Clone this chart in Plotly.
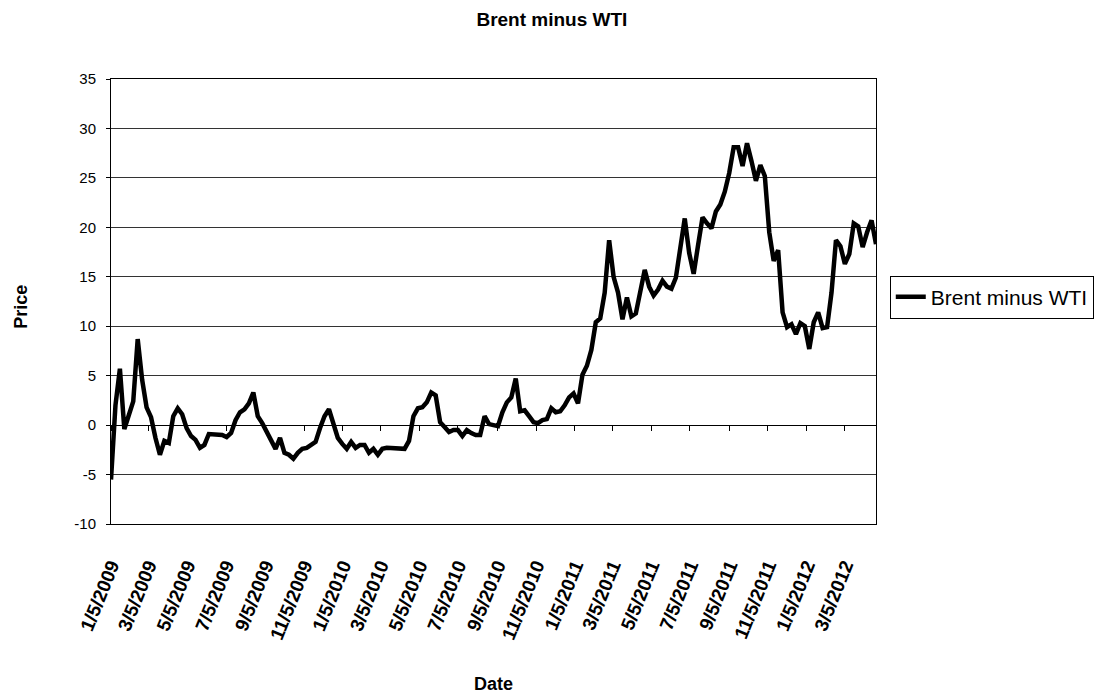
import plotly.graph_objects as go
import pandas as pd

# Weekly Brent minus WTI spread (USD)
start_date = "2009-01-05"
spread = [
    -5.5, 2.0, 5.7, -0.4, 1.0, 2.4, 8.7, 4.6, 1.8, 0.8,
    -1.3, -3.0, -1.6, -1.8, 0.9, 1.7, 1.1, -0.3, -1.1, -1.5,
    -2.3, -2.0, -0.9, -0.9, -0.9, -1.0, -1.2, -0.8, 0.5, 1.3,
    1.6, 2.2, 3.3, 0.9, 0.2, -0.6, -1.5, -2.4, -1.3, -2.8,
    -3.0, -3.4, -2.8, -2.4, -2.3, -2.0, -1.7, -0.3, 0.9, 1.6,
    0.3, -1.3, -1.9, -2.4, -1.7, -2.3, -2.0, -2.0, -2.8, -2.4,
    -3.0, -2.4, -2.3, -2.3, -2.3, -2.3, -2.4, -1.6, 0.9, 1.7,
    1.8, 2.3, 3.3, 3.0, 0.3, -0.2, -0.7, -0.5, -0.5, -1.1,
    -0.5, -0.8, -1.0, -1.0, 0.9, 0.1, 0.0, -0.1, 1.3, 2.3,
    2.8, 4.7, 1.4, 1.5, 0.9, 0.3, 0.2, 0.5, 0.6, 1.7,
    1.3, 1.4, 2.0, 2.8, 3.2, 2.2, 5.1, 6.0, 7.6, 10.4,
    10.8, 13.4, 18.7, 15.0, 13.4, 10.7, 12.9, 11.0, 11.3, 13.5,
    15.7, 14.0, 13.1, 13.7, 14.6, 14.0, 13.8, 14.9, 17.7, 20.9,
    17.4, 15.3, 18.2, 21.0, 20.4, 19.9, 21.6, 22.3, 23.6, 25.5,
    28.1, 28.1, 26.2, 28.5, 26.7, 24.7, 26.3, 25.2, 19.5, 16.6,
    17.7, 11.4, 9.9, 10.2, 9.2, 10.3, 10.0, 7.7, 10.4, 11.4,
    9.8, 9.9, 13.4, 18.7, 18.1, 16.3, 17.3, 20.4, 20.1, 18.0,
    19.5, 20.7, 18.3,
]
dates = pd.date_range(start_date, periods=len(spread), freq="7D")

y_tick_values = [-10, -5, 0, 5, 10, 15, 20, 25, 30, 35]
y_tick_labels = ["-10", "-5", "0", "5", "10", "15", "20", "25", "30", "35"]

series_name = "Brent minus WTI"
chart_title = "Brent minus WTI"
y_title = "Price"
x_title = "Date"

FONT = "Liberation Sans, Arial, sans-serif"

fig = go.Figure()
fig.add_trace(go.Scatter(
    x=dates, y=spread, mode="lines", name=series_name,
    line=dict(color="black", width=4.5),
))
# helper trace so the zero-crossing category axis (with its tick marks) is drawn
fig.add_trace(go.Scatter(
    x=[dates[0], dates[-1]], y=[None, None], xaxis="x2", mode="lines",
    showlegend=False, hoverinfo="skip",
))

x_range = [dates[0], dates[-1]]
y_min, y_max = y_tick_values[0], y_tick_values[-1]

fig.update_layout(
    width=1115, height=697,
    margin=dict(l=111, r=239, t=79, b=173, autoexpand=False),
    paper_bgcolor="white", plot_bgcolor="white",
    font=dict(family=FONT, color="black"),
    title=dict(text="<b>" + chart_title + "</b>", x=0.495, xanchor="center",
               y=1 - 19 / 697, yanchor="middle",
               font=dict(size=19, family=FONT, color="black")),
    showlegend=True,
    legend=dict(x=1.018, y=0.558, xanchor="left", yanchor="top",
                bordercolor="black", borderwidth=1, bgcolor="white",
                font=dict(size=21, family=FONT, color="black"),
                itemwidth=30, tracegroupgap=0),
    xaxis=dict(
        type="date", range=x_range, tick0=start_date, dtick="M2",
        tickformat="%-m/%-d/%Y", tickangle=-68,
        tickfont=dict(size=19, family=FONT, color="black", weight="bold"),
        showgrid=False, zeroline=False,
        showline=True, linecolor="black", linewidth=1, mirror=True,
        ticks="", ticklabelstandoff=22,
    ),
    xaxis2=dict(
        type="date", matches="x", overlaying="x", anchor="free",
        position=(0 - y_min) / (y_max - y_min),
        tick0=start_date, dtick="M2", showticklabels=False,
        showgrid=False, zeroline=False,
        showline=True, linecolor="black", linewidth=1,
        ticks="outside", ticklen=5, tickcolor="black", tickwidth=1,
    ),
    yaxis=dict(
        range=[y_min, y_max], tickmode="array",
        tickvals=y_tick_values, ticktext=y_tick_labels,
        showgrid=True, gridcolor="#333333", gridwidth=1,
        zeroline=False,
        showline=True, linecolor="black", linewidth=1, mirror=True,
        ticks="outside", ticklen=4, tickcolor="black",
        tickfont=dict(size=15, family=FONT, color="black"),
        ticklabelstandoff=7,
    ),
    annotations=[
        dict(text="<b>" + y_title + "</b>", xref="paper", yref="paper",
             x=(21 - 111) / 765, y=(524.3 - 307) / 445, textangle=-90,
             showarrow=False, xanchor="center", yanchor="middle",
             font=dict(size=18, family=FONT, color="black")),
        dict(text="<b>" + x_title + "</b>", xref="paper", yref="paper",
             x=0.5, y=(524.3 - 684) / 445, showarrow=False,
             xanchor="center", yanchor="middle",
             font=dict(size=18, family=FONT, color="black")),
    ],
)

fig.write_html("out.html")
